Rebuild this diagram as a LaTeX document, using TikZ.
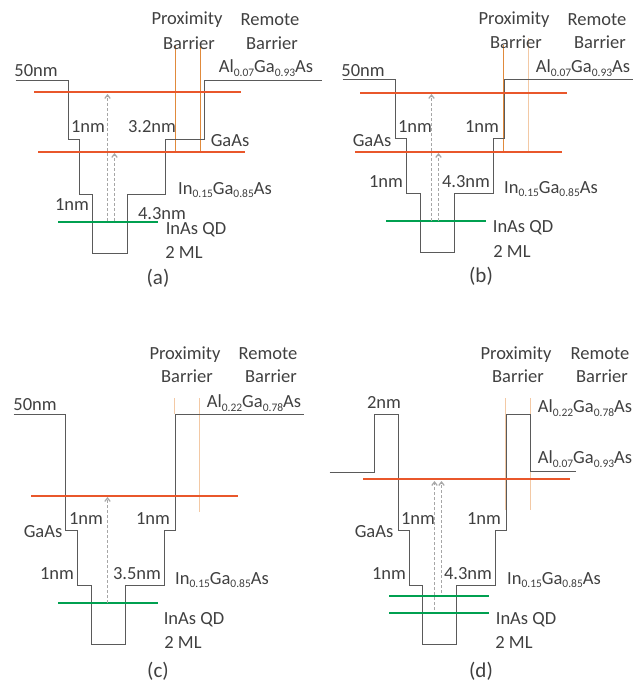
\documentclass[tikz,border=0pt]{standalone}
\usepackage{fontspec}
\setmainfont{Carlito}
\usetikzlibrary{arrows.meta}
\definecolor{txt}{HTML}{404040}
\definecolor{band}{HTML}{5A5A5A}
\definecolor{lvl}{HTML}{E9572B}
\definecolor{qd}{HTML}{00A050}
\definecolor{bar}{HTML}{E08A3C}
\definecolor{barl}{HTML}{F3C9A5}
\newcommand{\sbs}[1]{\raisebox{-3.4pt}{\fontsize{11.5}{12}\selectfont #1}}
\newcommand{\alga}[2]{Al\sbs{#1}Ga\sbs{#2}As}
\newcommand{\inga}{In\sbs{0.15}Ga\sbs{0.85}As}
\tikzset{
  x=1pt,y=-1pt,
  lab/.style={text=txt,font=\fontsize{18.5}{20}\selectfont,inner sep=0pt,anchor=center},
  panellabel/.style={text=txt,font=\fontsize{21}{22}\selectfont,inner sep=0pt,anchor=center},
  bandline/.style={draw=band,line width=1.25pt,line join=miter,xshift=.5pt,yshift=-.5pt},
  level/.style={draw=lvl,line width=2pt},
  dot/.style={draw=qd,line width=2pt},
  barrier/.style={draw=bar,line width=1pt,xshift=.5pt},
  barrierl/.style={draw=barl,line width=1pt,xshift=.5pt},
  trans/.style={draw=gray!70,line width=1.2pt,densely dashed,xshift=.5pt,-{Straight Barb[length=3.5pt,width=5.5pt]}}
}
\begin{document}
\begin{tikzpicture}
\useasboundingbox (0,0) rectangle (641,683);
% panel (a)
\draw[barrier] (175,45) -- (175,152);
\draw[barrier] (200,45) -- (200,152);
\draw[bandline] (15,80) -- (68,80) -- (68,139) -- (79,139) -- (79,194) -- (92,194) -- (92,253) -- (127,253) -- (127,194) -- (165,194) -- (165,139) -- (204,139) -- (204,80) -- (321,80);
\draw[level] (34,92) -- (241,92);
\draw[level] (38,152) -- (245,152);
\draw[dot] (58,222) -- (158,222);
\draw[trans] (107,221) -- (107,94);
\draw[trans] (114,221) -- (114,153);
\node[lab] (a1) at (187,20) {Proximity};
\node[lab] (a2) at (189,43) {Barrier};
\node[lab] (a3) at (270,20) {Remote};
\node[lab] (a4) at (272,43) {Barrier};
\node[lab] (a5) at (36,71) {50nm};
\node[lab] (a6) at (266,68) {\alga{0.07}{0.93}};
\node[lab] (a7) at (88,127) {1nm};
\node[lab] (a8) at (152,127) {3.2nm};
\node[lab] (a9) at (230,141) {GaAs};
\node[lab] (a10) at (225,190) {\inga};
\node[lab] (a11) at (72,205) {1nm};
\node[lab] (a12) at (162,214) {4.3nm};
\node[lab] (a13) at (196,230) {InAs QD};
\node[lab] (a14) at (184,252) {2 ML};
\node[panellabel] (a15) at (158,278) {(a)};
% panel (b)
\draw[barrier] (503,45) -- (503,152);
\draw[barrierl] (528,38) -- (528,152);
\draw[bandline] (342,79) -- (395,79) -- (395,138) -- (406,138) -- (406,193) -- (420,193) -- (420,252) -- (454,252) -- (454,193) -- (493,193) -- (493,138) -- (504,138) -- (504,79) -- (632,79);
\draw[level] (360,93) -- (567,93);
\draw[level] (355,152) -- (562,152);
\draw[dot] (386,221) -- (486,221);
\draw[trans] (431,221) -- (431,94);
\draw[trans] (438,221) -- (438,153);
\node[lab] (b1) at (514,20) {Proximity};
\node[lab] (b2) at (516,42) {Barrier};
\node[lab] (b3) at (597,20) {Remote};
\node[lab] (b4) at (600,42) {Barrier};
\node[lab] (b5) at (363,71) {50nm};
\node[lab] (b6) at (583,68) {\alga{0.07}{0.93}};
\node[lab] (b7) at (415,127) {1nm};
\node[lab] (b8) at (482,127) {1nm};
\node[lab] (b9) at (372,141) {GaAs};
\node[lab] (b10) at (386,182) {1nm};
\node[lab] (b11) at (466,182) {4.3nm};
\node[lab] (b12) at (551,189) {\inga};
\node[lab] (b13) at (523,228) {InAs QD};
\node[lab] (b14) at (512,251) {2 ML};
\node[panellabel] (b15) at (481,276) {(b)};
% panel (c)
\draw[barrierl] (174,398) -- (174,414);
\draw[barrierl] (199,398) -- (199,512);
\draw[bandline] (13,414) -- (65,414) -- (65,530) -- (77,530) -- (77,585) -- (91,585) -- (91,644) -- (125,644) -- (125,585) -- (164,585) -- (164,530) -- (175,530) -- (175,414) -- (303,414);
\draw[level] (31,496) -- (238,496);
\draw[dot] (58,603) -- (158,603);
\draw[trans] (107,603) -- (107,497);
\node[lab] (c1) at (185,355) {Proximity};
\node[lab] (c2) at (187,376) {Barrier};
\node[lab] (c3) at (268,354) {Remote};
\node[lab] (c4) at (271,376) {Barrier};
\node[lab] (c5) at (35,405) {50nm};
\node[lab] (c6) at (254,403) {\alga{0.22}{0.78}};
\node[lab] (c7) at (86,519) {1nm};
\node[lab] (c8) at (153,519) {1nm};
\node[lab] (c9) at (43,532) {GaAs};
\node[lab] (c10) at (57,574) {1nm};
\node[lab] (c11) at (137,574) {3.5nm};
\node[lab] (c12) at (222,580) {\inga};
\node[lab] (c13) at (194,620) {InAs QD};
\node[lab] (c14) at (183,642) {2 ML};
\node[panellabel] (c15) at (158,671) {(c)};
% panel (d)
\draw[barrierl] (505,398) -- (505,510);
\draw[barrierl] (530,398) -- (530,510);
\draw[bandline] (329,472) -- (374,472) -- (374,414) -- (398,414) -- (398,530) -- (409,530) -- (409,585) -- (422,585) -- (422,644) -- (456,644) -- (456,585) -- (495,585) -- (495,530) -- (506,530) -- (506,414) -- (530,414) -- (530,471) -- (575,471);
\draw[level] (363,479) -- (570,479);
\draw[dot] (389,596) -- (489,596);
\draw[dot] (389,613) -- (489,613);
\draw[trans] (434,610) -- (434,481);
\draw[trans] (441,593) -- (441,481);
\node[lab] (d1) at (516,355) {Proximity};
\node[lab] (d2) at (518,376) {Barrier};
\node[lab] (d3) at (600,354) {Remote};
\node[lab] (d4) at (602,376) {Barrier};
\node[lab] (d5) at (384,402) {2nm};
\node[lab] (d6) at (585,408) {\alga{0.22}{0.78}};
\node[lab] (d7) at (585,459) {\alga{0.07}{0.93}};
\node[lab] (d8) at (418,519) {1nm};
\node[lab] (d9) at (484,519) {1nm};
\node[lab] (d10) at (374,532) {GaAs};
\node[lab] (d11) at (389,574) {1nm};
\node[lab] (d12) at (468,574) {4.3nm};
\node[lab] (d13) at (554,580) {\inga};
\node[lab] (d14) at (526,620) {InAs QD};
\node[lab] (d15) at (514,642) {2 ML};
\node[panellabel] (d16) at (481,671) {(d)};
\end{tikzpicture}
\end{document}
